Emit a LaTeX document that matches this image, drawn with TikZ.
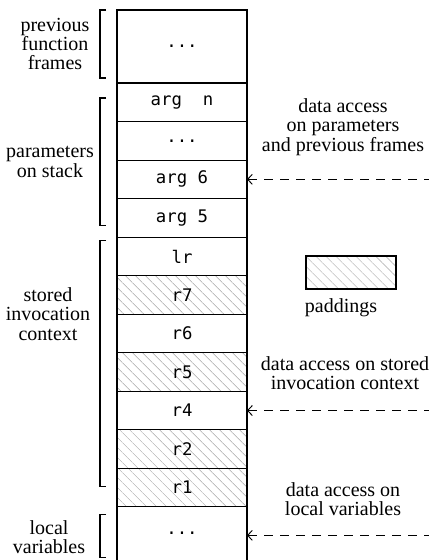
\documentclass[tikz,border=0pt]{standalone}
\usepackage{fontspec}
\setmainfont{Liberation Serif}
\setmonofont{DejaVu Sans Mono}
\usetikzlibrary{positioning, patterns.meta, arrows.meta}

\tikzset{
    cell/.style={draw, rectangle, line width=0.8pt, minimum width=97.5pt, minimum height=28.9pt,
        inner sep=0pt, outer sep=0pt, font=\fontsize{13}{13}\ttfamily},
    padcell/.style={cell, pattern={Lines[angle=-45, distance=5.3pt, line width=0.35pt]}, pattern color=black!35},
    note/.style={align=center, inner sep=0pt, font=\fontsize{15}{14.6}\selectfont},
    brack/.style={line width=0.8pt},
    access/.style={{Straight Barb[length=3.5pt, width=7.5pt]}-, dashed, dash pattern=on 7pt off 5pt, line width=0.7pt}
}

\begin{document}
\begin{tikzpicture}[x=0.75pt, y=0.75pt]
            \useasboundingbox (0,0) rectangle (429,-560);
            % Nodes
            \node [cell, minimum height=54.75pt] (prev) at (182,-46.5) {...};
            \node [cell, below=0pt of prev] (argn) {arg~~n};
            \node [cell, below=0pt of argn] (argdots) {...};
            \node [cell, below=0pt of argdots] (argsix) {arg 6};
            \node [cell, below=0pt of argsix] (argfive) {arg 5};
            \node [cell, below=0pt of argfive] (lr) {lr};
            \node [padcell, below=0pt of lr] (rseven) {r7};
            \node [cell, below=0pt of rseven] (rsix) {r6};
            \node [padcell, below=0pt of rsix] (rfive) {r5};
            \node [cell, below=0pt of rfive] (rfour) {r4};
            \node [padcell, below=0pt of rfour] (rtwo) {r2};
            \node [padcell, below=0pt of rtwo] (rone) {r1};
            \node [cell, draw=none, minimum height=39.75pt, below=0pt of rone] (locals) {...};
            \draw [line width=0.8pt] (locals.north west) -- (locals.south west);
            \draw [line width=0.8pt] (locals.north east) -- (locals.south east);

            % Brackets and their labels
            \draw [brack] ([xshift=-8.25pt]prev.north west) -- ++(-4.5pt,0) |- ([xshift=-8.25pt, yshift=3.75pt]prev.south west);
            \draw [brack] ([xshift=-8.25pt, yshift=-11.25pt]argn.north west) -- ++(-4.5pt,0) |- ([xshift=-8.25pt, yshift=9pt]argfive.south west);
            \draw [brack] ([xshift=-8.25pt, yshift=-2.25pt]lr.north west) -- ++(-4.5pt,0) |- ([xshift=-8.25pt, yshift=15pt]rone.south west);
            \draw [brack] ([xshift=-8.25pt, yshift=-6pt]locals.north west) -- ++(-4.5pt,0) |- ([xshift=-8.25pt, yshift=1.5pt]locals.south west);
            \node [note] (prevlabel) at (55,-44) {previous\\function\\frames};
            \node [note] (paramlabel) at (50,-162) {parameters\\on stack};
            \node [note] (ctxlabel) at (48,-314) {stored\\invocation\\context};
            \node [note] (locallabel) at (49,-537) {local\\variables};

            % Legend
            \node [padcell, minimum width=67.5pt, minimum height=24.75pt] (padkey) at (351,-272.5) {};
            \node [note] (padtext) at (341,-308) {paddings};

            % Access notes
            \node [note] (paramnote) at (343,-127) {data access\\on parameters\\and previous frames};
            \node [note] (ctxnote) at (345,-373) {data access on stored\\invocation context};
            \node [note] (localnote) at (343,-499) {data access on\\local variables};

            % Arrows
            \coordinate (edge) at (429,0);
            \draw [access] (argsix.east) -- (argsix.east -| edge);
            \draw [access] (rfour.east) -- (rfour.east -| edge);
            \draw [access] ([yshift=-1.5pt]locals.east) -- ([yshift=-1.5pt]locals.east -| edge);

        \end{tikzpicture}
\end{document}
